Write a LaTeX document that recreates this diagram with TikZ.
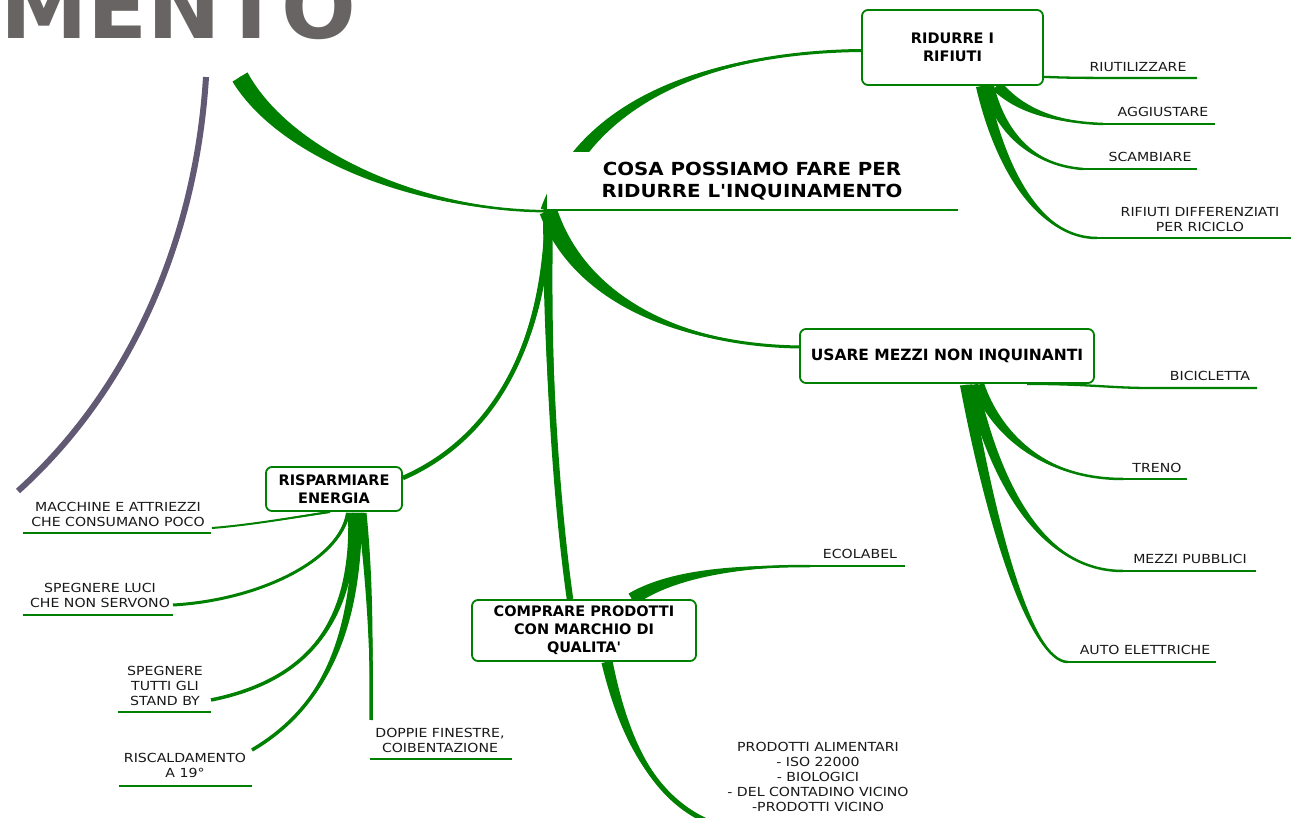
\documentclass[tikz,border=0pt]{standalone}
\usepackage{fontspec}
\setmainfont{DejaVu Sans}
\newfontfamily\leaffont{DejaVu Sans}[FakeStretch=1.13]
\newfontfamily\titlefont{DejaVu Sans}[FakeStretch=1.1]
\newfontfamily\boxfont{DejaVu Sans}
\usetikzlibrary{calc}
\definecolor{mmgreen}{RGB}{0,128,0}
\definecolor{mmpurple}{RGB}{98,89,116}
\definecolor{mmgray}{RGB}{104,100,99}
\definecolor{mmtext}{RGB}{25,25,25}
\pgfdeclarelayer{bg}
\pgfsetlayers{bg,main}
\newcommand{\tbranch}[6]{%
  \fill[mmgreen] ($#1+#5$) .. controls ($#2+0.75*#5$) and ($#3+0.35*#5$) .. #4
     .. controls ($#3-0.35*#5$) and ($#2-0.75*#5$) .. ($#1-#5$) -- cycle;
  \draw[mmgreen,line width=#6] #1 .. controls #2 and #3 .. #4;}
\begin{document}
\begin{tikzpicture}[x=1pt,y=-1pt,
  box/.style={draw=mmgreen, line width=1.8pt, rounded corners=6pt, fill=white, align=center, text=black,
    font=\boxfont\bfseries\fontsize{14.5}{18}\selectfont, inner sep=0pt},
  leaf/.style={align=center, text=mmtext, font=\leaffont\fontsize{12.5}{15}\selectfont, inner sep=0pt},
  titlenode/.style={fill=white, align=center, text=black, inner sep=0pt,
    font=\titlefont\bfseries\fontsize{18}{22}\selectfont, minimum width=411pt, minimum height=58pt},
  uline/.style={draw=mmgreen, line width=2.3pt},
]
\useasboundingbox (0,0) rectangle (1291,818);

% top-left title fragment
\node[anchor=base west, text=mmgray, inner sep=0pt,
  font=\boxfont\bfseries\fontsize{88}{90}\selectfont] (mento) at (0,39) {MENTO};

% central node
\node[titlenode] (title) at (752,181) {COSA POSSIAMO FARE PER\\RIDURRE L'INQUINAMENTO};
\draw[mmgreen, line width=2pt] (title.south west) -- (title.south east);

% main topic boxes
\node[box, minimum width=181pt, minimum height=75pt] (rid) at (952.5,47.5) {RIDURRE I\\RIFIUTI};
\node[box, minimum width=294pt, minimum height=54pt, font=\boxfont\bfseries\fontsize{15.5}{18}\selectfont] (usa) at (947,356) {USARE MEZZI NON INQUINANTI};
\node[box, minimum width=136pt, minimum height=44pt] (ris) at (334,489) {RISPARMIARE\\ENERGIA};
\node[box, minimum width=224pt, minimum height=61pt] (com) at (584,630.5) {COMPRARE PRODOTTI\\CON MARCHIO DI\\QUALITA'};

% leaf texts
\node[leaf] (riu) at (1138,67) {RIUTILIZZARE};
\node[leaf] (agg) at (1163,112) {AGGIUSTARE};
\node[leaf] (sca) at (1150,157) {SCAMBIARE};
\node[leaf] (rif) at (1200,219.5) {RIFIUTI DIFFERENZIATI\\PER RICICLO};
\node[leaf] (bic) at (1210,376) {BICICLETTA};
\node[leaf] (tre) at (1157,468) {TRENO};
\node[leaf] (mez) at (1190,559) {MEZZI PUBBLICI};
\node[leaf] (aut) at (1145,650) {AUTO ELETTRICHE};
\node[leaf] (mac) at (118,514) {MACCHINE E ATTRIEZZI\\CHE CONSUMANO POCO};
\node[leaf] (spl) at (100,595.5) {SPEGNERE LUCI\\CHE NON SERVONO};
\node[leaf] (stb) at (165,685.5) {SPEGNERE\\TUTTI GLI\\STAND BY};
\node[leaf] (rsc) at (185,765.5) {RISCALDAMENTO\\A 19°};
\node[leaf] (dop) at (440,740) {DOPPIE FINESTRE,\\COIBENTAZIONE};
\node[leaf] (eco) at (860,554) {ECOLABEL};
\node[leaf] (pro) at (818,777) {PRODOTTI ALIMENTARI\\- ISO 22000\\- BIOLOGICI\\- DEL CONTADINO VICINO\\-PRODOTTI VICINO};

% attachment coordinates
\coordinate (hub) at ($(title.south west)+(2,1)$);
\coordinate (par) at (240,77);
\coordinate (pur1) at (206,77);
\coordinate (pur2) at (18,491);
\coordinate (ridL) at ($(rid.west)+(0,3)$);
\coordinate (usaL) at ($(usa.west)+(0,-9)$);
\coordinate (risR) at ($(ris.east)+(0,-11)$);
\coordinate (comT) at ($(com.north)+(-14,0)$);
\coordinate (ridR) at ($(rid.south east)+(0,-9)$);
\coordinate (ridB1) at ($(rid.south)+(44.5,0)$);
\coordinate (ridB2) at ($(rid.south)+(35.5,0)$);
\coordinate (ridB3) at ($(rid.south)+(29.5,0)$);
\coordinate (usaR) at ($(usa.south)+(80,0)$);
\coordinate (usaB1) at ($(usa.south)+(31,1)$);
\coordinate (usaB2) at ($(usa.south)+(25,1)$);
\coordinate (usaB3) at ($(usa.south)+(19,1)$);
\coordinate (risB0) at ($(ris.south)+(-4,0)$);
\coordinate (risB1) at ($(ris.south)+(14,1)$);
\coordinate (risB2) at ($(ris.south)+(18,1)$);
\coordinate (risB3) at ($(ris.south)+(23,1)$);
\coordinate (risB4) at ($(ris.south)+(28,1)$);
\coordinate (comT2) at ($(com.north)+(48,0)$);
\coordinate (comB) at ($(com.south)+(23,0)$);

\coordinate (riuU) at (1197,78);
\coordinate (aggE) at (1103,124); \coordinate (aggU) at (1215,124);
\coordinate (scaE) at (1083,169); \coordinate (scaU) at (1197,169);
\coordinate (rifE) at (1097,238); \coordinate (rifU) at (1295,238);
\coordinate (bicE) at (1150,388); \coordinate (bicU) at (1257,388);
\coordinate (treE) at (1123,479); \coordinate (treU) at (1187,479);
\coordinate (mezE) at (1123,571); \coordinate (mezU) at (1256,571);
\coordinate (autE) at (1068,662); \coordinate (autU) at (1216,662);
\coordinate (macE) at (212,528); \coordinate (macU1) at (23,533); \coordinate (macU2) at (211,533);
\coordinate (splE) at (173,605); \coordinate (splU1) at (23,615); \coordinate (splU2) at (173,615);
\coordinate (stbE) at (211,700); \coordinate (stbU1) at (118,712); \coordinate (stbU2) at (211,712);
\coordinate (rscE) at (252,750); \coordinate (rscU1) at (119,786); \coordinate (rscU2) at (252,786);
\coordinate (dopE) at (371,720); \coordinate (dopU1) at (370,759); \coordinate (dopU2) at (512,759);
\coordinate (ecoE) at (810,566); \coordinate (ecoU) at (905,566);
\coordinate (proE) at (714,824);

% underlines
\draw[uline] (ridR) .. controls (1075,78) .. (riuU);
\draw[uline] (aggE) -- (aggU);
\draw[uline] (scaE) -- (scaU);
\draw[uline] (rifE) -- (rifU);
\draw[uline] (treE) -- (treU);
\draw[uline] (mezE) -- (mezU);
\draw[uline] (autE) -- (autU);
\draw[uline] (macU1) -- (macU2);
\draw[uline] (splU1) -- (splU2);
\draw[uline] (stbU1) -- (stbU2);
\draw[uline] (rscU1) -- (rscU2);
\draw[uline] (dopU1) -- (dopU2);
\draw[uline] (ecoE) -- (ecoU);

\begin{pgfonlayer}{bg}
\fill[white] (0,0) rectangle (1291,818);
\draw[mmpurple, line width=6pt] (pur1) .. controls (196,240) and (130,390) .. (pur2);
% central connections
\tbranch{(par)}{(285,155)}{(420,211)}{(hub)}{(7.5,-4.6)}{2.5pt}
\tbranch{(hub)}{(590,90)}{(730,52)}{(ridL)}{(7.5,2.6)}{3pt}
\tbranch{(hub)}{(580,300)}{(680,345)}{(usaL)}{(8.5,-2.9)}{3pt}
\tbranch{(hub)}{(545,350)}{(490,440)}{(risR)}{(3.5,0)}{4.5pt}
\tbranch{(hub)}{(546,350)}{(556,500)}{(comT)}{(5,0)}{6.5pt}
% ridurre leaves
\tbranch{(ridB1)}{(1015,105)}{(1045,122)}{(aggE)}{(4.5,-3.8)}{2.5pt}
\tbranch{(ridB2)}{(1000,130)}{(1030,165)}{(scaE)}{(5.8,-1.5)}{2.5pt}
\tbranch{(ridB3)}{(1000,170)}{(1040,238)}{(rifE)}{(6,-1.2)}{2.5pt}
% usare leaves
\draw[uline] (usaR) .. controls (1090,384) and (1110,388) .. (bicE) -- (bicU);
\tbranch{(usaB1)}{(995,430)}{(1040,479)}{(treE)}{(6,-1.8)}{2.5pt}
\tbranch{(usaB2)}{(995,480)}{(1040,571)}{(mezE)}{(6,-1.2)}{2.5pt}
\tbranch{(usaB3)}{(990,520)}{(1030,662)}{(autE)}{(6,-0.6)}{2.5pt}
% risparmiare leaves
\tbranch{(risB0)}{(290,518)}{(250,525)}{(macE)}{(0,1)}{2pt}
\tbranch{(risB1)}{(340,560)}{(260,600)}{(splE)}{(2,0)}{3pt}
\tbranch{(risB2)}{(355,620)}{(310,680)}{(stbE)}{(4,0)}{3.5pt}
\tbranch{(risB3)}{(358,640)}{(320,710)}{(rscE)}{(5,0)}{3.5pt}
\tbranch{(risB4)}{(370,580)}{(372,660)}{(dopE)}{(4.5,0)}{3.5pt}
% comprare leaves
\tbranch{(comT2)}{(670,575)}{(730,566)}{(ecoE)}{(3.5,5.5)}{2.5pt}
\tbranch{(comB)}{(622,730)}{(650,800)}{(proE)}{(5.5,-1.2)}{5pt}
\end{pgfonlayer}
\end{tikzpicture}
\end{document}
